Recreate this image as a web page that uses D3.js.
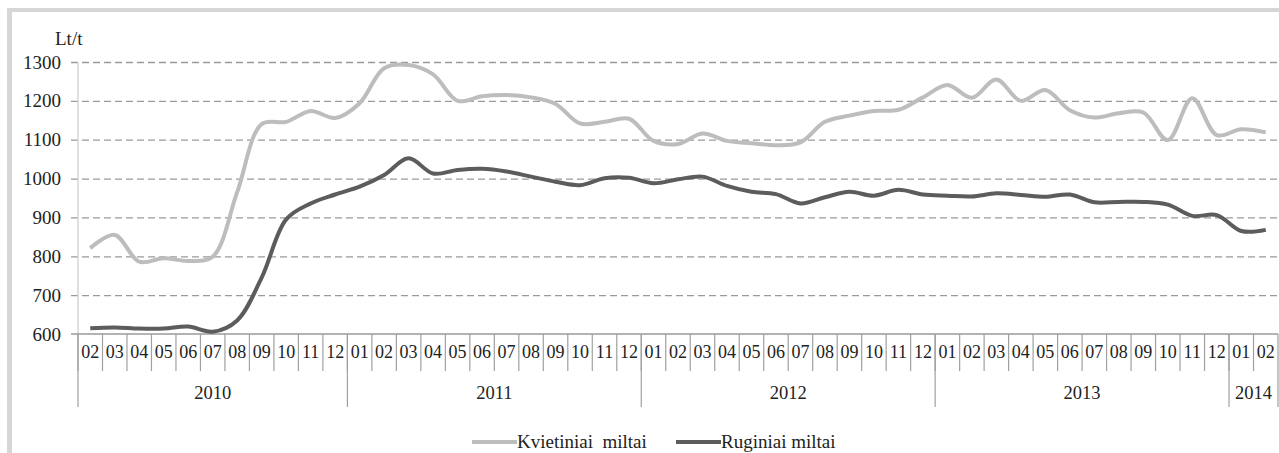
<!DOCTYPE html>
<html>
<head>
<meta charset="utf-8">
<script src="https://cdn.jsdelivr.net/npm/d3@7"></script>
<style>
  body { margin: 0; background: #fff; }
</style>
</head>
<body>
<div id="chart-area"></div>
<script>
// months from 2010-02 to 2014-02
const categories = [
  '2010-02','2010-03','2010-04','2010-05','2010-06','2010-07','2010-08','2010-09','2010-10','2010-11','2010-12',
  '2011-01','2011-02','2011-03','2011-04','2011-05','2011-06','2011-07','2011-08','2011-09','2011-10','2011-11','2011-12',
  '2012-01','2012-02','2012-03','2012-04','2012-05','2012-06','2012-07','2012-08','2012-09','2012-10','2012-11','2012-12',
  '2013-01','2013-02','2013-03','2013-04','2013-05','2013-06','2013-07','2013-08','2013-09','2013-10','2013-11','2013-12',
  '2014-01','2014-02'
]

// Kvietiniai miltai (wheat flour), Lt/t
const wheat = [
  821, 855, 786, 795, 788, 799, 965, 1140, 1146, 1174, 1156,
  1194, 1284, 1292, 1268, 1200, 1212, 1215, 1209, 1192, 1142, 1146, 1154,
  1097, 1089, 1116, 1097, 1091, 1086, 1093, 1146, 1162, 1174, 1177, 1209,
  1241, 1208, 1255, 1200, 1228, 1176, 1157, 1168, 1170, 1099, 1207, 1112,
  1127, 1119
]

// Ruginiai miltai (rye flour), Lt/t
const rye = [
  615, 617, 614, 614, 619, 606, 635, 745, 895, 936, 959,
  979, 1009, 1052, 1013, 1022, 1025, 1018, 1005, 992, 983, 1001, 1002,
  988, 998, 1005, 981, 966, 960, 936, 952, 966, 956, 971, 959,
  956, 954, 962, 958, 953, 959, 939, 940, 940, 933, 904, 906,
  865, 868
]

const yTicks = [600, 700, 800, 900, 1000, 1100, 1200, 1300]
const seriesNames = ['Kvietiniai  miltai', 'Ruginiai miltai']
const seriesColors = ['#bdbdbd', '#5c5c5c']

const W = 1279, H = 453
const plot = { left: 78, right: 1278, top: 62, bottom: 334 }
const FONT = "'Liberation Serif', 'DejaVu Serif', 'Times New Roman', serif"
const INK = '#222'

const svg = d3.select('#chart-area')
              .append('svg')
              .attr('width', W)
              .attr('height', H)
              .attr('font-family', FONT)

// frame
svg.append('rect').attr('x', 7).attr('y', 8).attr('width', W - 7).attr('height', 4).attr('fill', '#d6d6d6')
svg.append('rect').attr('x', 7).attr('y', 8).attr('width', 5).attr('height', H - 8).attr('fill', '#d6d6d6')

const x = d3.scaleBand()
            .domain(categories)
            .range([plot.left, plot.right])
            .padding(0)

const y = d3.scaleLinear()
            .domain([600, 1300])
            .range([plot.bottom, plot.top])

// gridlines
const grid = svg.append('g')
                .attr('transform', 'translate(71,0)')
                .call(d3.axisRight(y).tickValues(yTicks.slice(1)).tickSize(plot.right - 71).tickFormat(''))
grid.select('.domain').remove()
grid.selectAll('line')
    .attr('stroke', '#9a9a9a')
    .attr('stroke-width', 1.3)
    .attr('stroke-dasharray', '7,4')

// y axis line
svg.append('line')
   .attr('x1', plot.left).attr('x2', plot.left)
   .attr('y1', plot.top).attr('y2', plot.bottom)
   .attr('stroke', '#d0d0d0').attr('stroke-width', 1.3)

// y labels
const yAxis = svg.append('g')
                 .attr('transform', 'translate(61,0)')
                 .call(d3.axisLeft(y).tickValues(yTicks).tickSize(0).tickPadding(0).tickFormat(d3.format('d')))
yAxis.attr('font-family', FONT)
yAxis.select('.domain').remove()
yAxis.selectAll('text').attr('font-size', '19px').attr('fill', INK)

svg.append('text')
   .attr('x', 55).attr('y', 45)
   .attr('font-size', '19px')
   .attr('fill', INK)
   .text('Lt/t')

// x axis base line
svg.append('line')
   .attr('x1', 71).attr('x2', plot.right)
   .attr('y1', plot.bottom).attr('y2', plot.bottom)
   .attr('stroke', '#9a9a9a').attr('stroke-width', 1.5)

// month labels
const xAxis = svg.append('g')
                 .attr('transform', 'translate(0,' + plot.bottom + ')')
                 .call(d3.axisBottom(x).tickSize(0).tickPadding(0).tickFormat(d => d.slice(5)))
xAxis.attr('font-family', FONT)
xAxis.select('.domain').remove()
xAxis.selectAll('text')
     .attr('font-size', '18px')
     .attr('fill', INK)
     .attr('dy', '1em')
     .attr('y', 6)

// month separators
svg.append('g').selectAll('line')
   .data(categories)
   .enter()
   .append('line')
   .attr('x1', d => x(d)).attr('x2', d => x(d))
   .attr('y1', plot.bottom).attr('y2', 371)
   .attr('stroke', '#a0a0a0').attr('stroke-width', 1.2)

// years
const years = Array.from(d3.group(categories, d => d.slice(0, 4)), ([k, v]) => ({ year: k, first: v[0], last: v[v.length - 1] }))

svg.append('g').selectAll('line')
   .data(years.map(d => x(d.first)).concat([plot.right]))
   .enter()
   .append('line')
   .attr('x1', d => d).attr('x2', d => d)
   .attr('y1', plot.bottom).attr('y2', 407)
   .attr('stroke', '#a0a0a0').attr('stroke-width', 1.2)

svg.append('g').selectAll('text')
   .data(years)
   .enter()
   .append('text')
   .attr('x', d => (x(d.first) + x(d.last) + x.bandwidth()) / 2)
   .attr('y', 399)
   .attr('text-anchor', 'middle')
   .attr('font-size', '18.5px')
   .attr('fill', INK)
   .text(d => d.year)

// lines
const line = d3.line()
               .x((d, i) => x(categories[i]) + x.bandwidth() / 2)
               .y(d => y(d))
               .curve(d3.curveCatmullRom.alpha(0.5))

;[wheat, rye].forEach((s, i) => {
  svg.append('path')
     .datum(s)
     .attr('fill', 'none')
     .attr('stroke', seriesColors[i])
     .attr('stroke-width', 4)
     .attr('stroke-linejoin', 'round')
     .attr('d', line)
})

// legend
const legendX = [472, 676]
seriesNames.forEach((name, i) => {
  svg.append('line')
     .attr('x1', legendX[i]).attr('x2', legendX[i] + 45)
     .attr('y1', 442).attr('y2', 442)
     .attr('stroke', seriesColors[i])
     .attr('stroke-width', 4)
  svg.append('text')
     .attr('x', legendX[i] + 45)
     .attr('y', 448)
     .attr('font-size', '19px')
     .attr('fill', INK)
     .style('white-space', 'pre')
     .text(name)
})
</script>
</body>
</html>
